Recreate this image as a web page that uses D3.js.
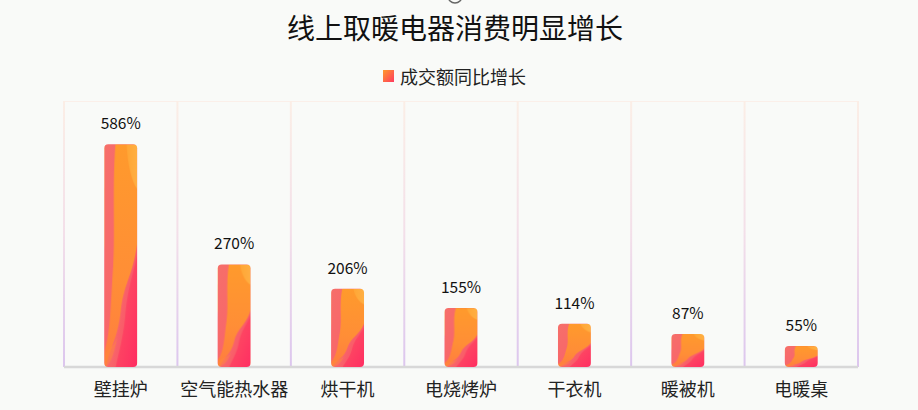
<!DOCTYPE html>
<html><head><meta charset="utf-8">
<script src="https://cdn.jsdelivr.net/npm/d3@7/dist/d3.min.js"></script>
<style>
html,body{margin:0;padding:0;background:#f9faf8;}
svg{display:block;font-family:"Noto Sans CJK SC","Noto Sans",sans-serif;}
</style></head>
<body>
<svg id="c" width="918" height="410"></svg>
<script>
const categories = ["壁挂炉","空气能热水器","烘干机","电烧烤炉","干衣机","暖被机","电暖桌"];
const values = [586, 270, 206, 155, 114, 87, 55];
const seriesName = "成交额同比增长";
const titleText = "线上取暖电器消费明显增长";

const W = 918, H = 410;
const margin = {left: 64, right: 60, top: 101, bottom: 43};
const svg = d3.select("#c");
const defs = svg.append("defs");

function lin(id, x1,y1,x2,y2, stops){
  const g = defs.append("linearGradient").attr("id",id)
    .attr("x1",x1).attr("y1",y1).attr("x2",x2).attr("y2",y2);
  stops.forEach(s=>g.append("stop").attr("offset",s[0]).attr("stop-color",s[1]));
}
lin("gBase",0,0,1,1,[[0,"#f66f6a"],[0.6,"#f8656a"],[1,"#fd3f66"]]);
lin("gOr",0,0,0,1,[[0,"#ff9a2c"],[0.6,"#ff8e36"],[1,"#ff7c40"]]);
lin("gLt",0,0,1,0,[[0,"#ffa836"],[1,"#ffb347"]]);
lin("gPk",0,0,1,1,[[0,"#fc5a62"],[1,"#ff2d62"]]);
lin("gGrid",0,0,0,1,[[0,"#fbeee6"],[0.5,"#f3dfe9"],[1,"#dcc6ee"]]);
lin("gLeg",0,0,1,1,[[0,"#ff9a2c"],[1,"#ff3a60"]]);

const pat = defs.append("pattern").attr("id","flame")
  .attr("patternUnits","objectBoundingBox").attr("patternContentUnits","objectBoundingBox")
  .attr("width",1).attr("height",1);
pat.append("rect").attr("width",1).attr("height",1).attr("fill","url(#gBase)");
pat.append("path").attr("fill","url(#gOr)")
  .attr("d","M0.34,0 L1,0 L1,0.45 C0.85,0.6 0.6,0.62 0.5,0.75 C0.4,0.88 0.2,0.9 0.05,1 L0,1 L0,0.93 C0.2,0.85 0.2,0.7 0.27,0.55 C0.34,0.4 0.24,0.2 0.34,0 Z");
pat.append("path").attr("fill","url(#gLt)").attr("opacity",0.85)
  .attr("d","M0.68,0 L1,0 L1,0.2 C0.85,0.17 0.72,0.1 0.68,0 Z");
pat.append("path").attr("fill","url(#gPk)")
  .attr("d","M1,0.5 L1,1 L0.35,1 C0.5,0.9 0.6,0.85 0.65,0.75 C0.72,0.65 0.85,0.6 1,0.5 Z");
pat.append("path").attr("fill","#ff8a3a").attr("opacity",0.5)
  .attr("d","M0,0.96 C0.15,0.9 0.3,0.92 0.4,0.86 C0.3,0.95 0.15,1 0,1 Z");

const x = d3.scaleBand().domain(categories).range([margin.left, W - margin.right]).paddingInner(0).paddingOuter(0);
const y = d3.scaleLinear().domain([0, 700]).range([H - margin.bottom, margin.top]);

svg.append("line").attr("x1",margin.left).attr("x2",W-margin.right)
  .attr("y1",margin.top+0.5).attr("y2",margin.top+0.5)
  .attr("stroke","#fbefe9").attr("stroke-width",1);

const bounds = categories.map(c=>x(c)).concat([x(categories[categories.length-1])+x.bandwidth()]);
svg.append("g").selectAll("rect").data(bounds).join("rect")
  .attr("x",d=>d-1).attr("width",2)
  .attr("y",margin.top).attr("height",y(0)-margin.top)
  .attr("fill","url(#gGrid)");

const xAxis = svg.append("g").attr("transform",`translate(0,${y(0)})`)
  .call(d3.axisBottom(x).tickSize(0).tickPadding(0));
xAxis.select(".domain").attr("stroke","#d8d8d8").attr("stroke-width",2.5)
  .attr("d",`M${margin.left},0H${W-margin.right}`);
xAxis.selectAll("text").attr("font-size",18).attr("fill","#222")
  .attr("dy",null).attr("y",21).attr("dominant-baseline","central")
  .attr("font-family",'"Noto Sans CJK SC",sans-serif');

const bw = x.bandwidth()*0.29;
svg.append("g").selectAll("rect").data(values).join("rect")
  .attr("x",(d,i)=>x(categories[i])+x.bandwidth()/2-bw/2)
  .attr("width",bw)
  .attr("y",d=>y(d))
  .attr("height",d=>y(0)-y(d))
  .attr("rx",4).attr("ry",4)
  .attr("fill","url(#flame)");

svg.append("g").selectAll("text").data(values).join("text")
  .attr("x",(d,i)=>x(categories[i])+x.bandwidth()/2)
  .attr("y",d=>y(d)-22)
  .attr("text-anchor","middle").attr("dominant-baseline","central")
  .attr("font-size",15.5).attr("fill","#111")
  .text(d=>d+"%");

svg.append("text").attr("x",455).attr("y",27).attr("text-anchor","middle")
  .attr("dominant-baseline","central").attr("font-size",28).attr("fill","#111")
  .text(titleText);

svg.append("circle").attr("cx",455).attr("cy",-4).attr("r",7)
  .attr("fill","none").attr("stroke","#666").attr("stroke-width",1.5);

svg.append("rect").attr("x",383).attr("y",70).attr("width",11).attr("height",12)
  .attr("fill","url(#gLeg)");
svg.append("text").attr("x",400).attr("y",76).attr("dominant-baseline","central")
  .attr("font-size",18).attr("fill","#222").text(seriesName);
</script>
</body></html>
